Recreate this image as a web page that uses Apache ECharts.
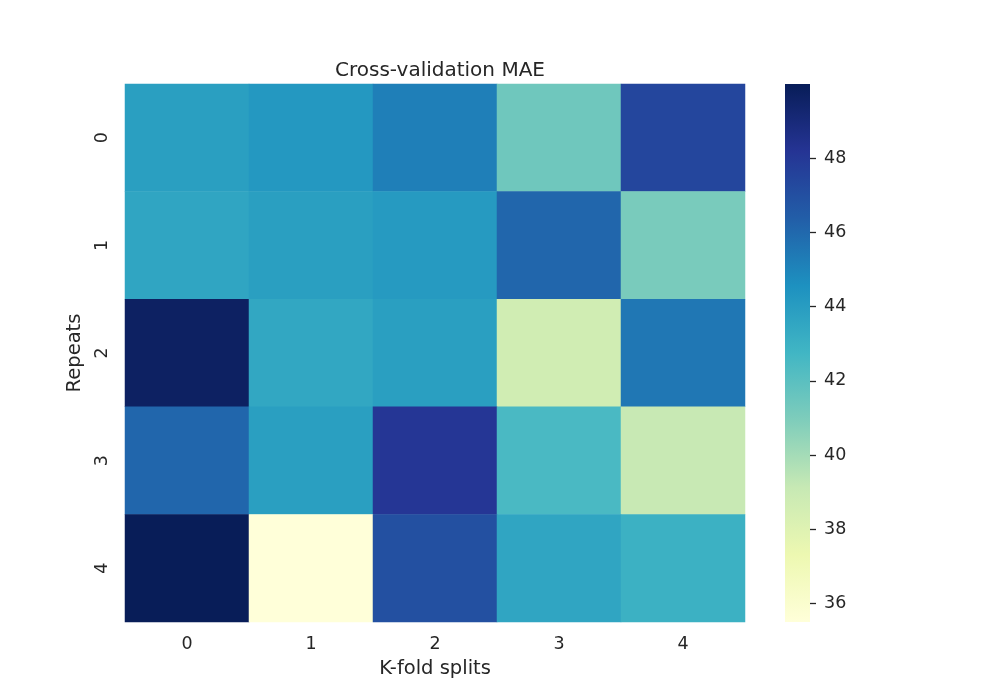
<!DOCTYPE html>
<html><head><meta charset="utf-8">
<script src="https://cdn.jsdelivr.net/npm/echarts@6/dist/echarts.min.js"></script>
<style>html,body{margin:0;padding:0;background:#fff}#c{width:1000px;height:700px}</style>
</head><body><div id="c"></div>
<script>
const xCategories = ['0','1','2','3','4'];
const yCategories = ['0','1','2','3','4'];
// rows = repeats, columns = k-fold splits
const row0 = [43.9, 44.2, 45.2, 41.4, 47.4];
const row1 = [43.6, 43.9, 44.1, 46.1, 41.1];
const row2 = [49.7, 43.5, 43.9, 38.7, 45.5];
const row3 = [46.1, 43.9, 48.1, 42.5, 39.1];
const row4 = [50.0, 35.5, 47.0, 43.6, 43.0];
const colorTicks = [36, 38, 40, 42, 44, 46, 48];
const vMin = 35.5, vMax = 50.0, vStep = 0.5;
const ylgnbu = ['#ffffd9','#edf8b1','#c7e9b4','#7fcdbb','#41b6c4','#1d91c0','#225ea8','#253494','#081d58'];

const rows = [row0, row1, row2, row3, row4];
const data = [];
rows.forEach((r, yi) => r.forEach((v, xi) => data.push([xi, yi, v])));
// colorbar axis positions (half-unit steps from vMin to vMax)
const barPositions = [];
for (let i = 0; vMin + i * vStep <= vMax + 1e-9; i++) barPositions.push(String(vMin + i * vStep));
const isTick = (idx, val) => colorTicks.indexOf(Number(val)) >= 0;

const txt = '#262626';
const font = 'DejaVu Sans';
const chart = echarts.init(document.getElementById('c'), null, {renderer: 'canvas'});
chart.setOption({
  animation: false,
  textStyle: {fontFamily: font},
  title: {text: 'Cross-validation MAE', left: 435, top: 56, textAlign: 'center',
    textStyle: {fontFamily: font, fontSize: 20, fontWeight: 'normal', color: txt}},
  grid: [
    {left: 125, top: 84, width: 620, height: 538},
    {left: 785, top: 84, width: 25, height: 538}
  ],
  xAxis: [
    {type: 'category', data: xCategories, gridIndex: 0, position: 'bottom',
     name: 'K-fold splits', nameLocation: 'middle', nameGap: 37,
     nameTextStyle: {fontSize: 19.5, color: txt, fontFamily: font},
     axisLine: {show: false}, axisTick: {show: false}, splitLine: {show: false},
     axisLabel: {fontSize: 17.5, color: txt, margin: 13, fontFamily: font}},
    {type: 'value', gridIndex: 1, show: false, min: 0, max: 1}
  ],
  yAxis: [
    {type: 'category', data: yCategories, gridIndex: 0, inverse: true,
     name: 'Repeats', nameLocation: 'middle', nameGap: 36, nameRotate: 90,
     nameTextStyle: {fontSize: 19.5, color: txt, fontFamily: font},
     axisLine: {show: false}, axisTick: {show: false}, splitLine: {show: false},
     axisLabel: {fontSize: 17.5, color: txt, rotate: 90, margin: 14, fontFamily: font}},
    {type: 'value', gridIndex: 1, show: false, min: vMin, max: vMax},
    {type: 'category', gridIndex: 1, position: 'right', data: barPositions, boundaryGap: false,
     axisLine: {show: false}, splitLine: {show: false},
     axisTick: {show: true, length: 6, interval: isTick, lineStyle: {color: txt, width: 1.3}},
     axisLabel: {fontSize: 17.5, color: txt, margin: 14, fontFamily: font, interval: isTick}}
  ],
  visualMap: {
    type: 'continuous', min: vMin, max: vMax, seriesIndex: 0, show: false,
    inRange: {color: ylgnbu}
  },
  series: [{
    type: 'heatmap', xAxisIndex: 0, yAxisIndex: 0, data: data,
    itemStyle: {borderWidth: 0}, emphasis: {disabled: true}, progressive: 0
  }, {
    type: 'custom', xAxisIndex: 1, yAxisIndex: 1, silent: true,
    data: [[0, vMin, 1, vMax]],
    renderItem: function (params, api) {
      const p0 = api.coord([api.value(0), api.value(3)]);
      const p1 = api.coord([api.value(2), api.value(1)]);
      const n = ylgnbu.length - 1;
      const stops = ylgnbu.map((c, i) => ({offset: 1 - i / n, color: c})).reverse();
      return {type: 'rect', shape: {x: p0[0], y: p0[1], width: p1[0] - p0[0], height: p1[1] - p0[1]},
        style: {fill: new echarts.graphic.LinearGradient(0, 0, 0, 1, stops)}};
    }
  }]
});
</script></body></html>
